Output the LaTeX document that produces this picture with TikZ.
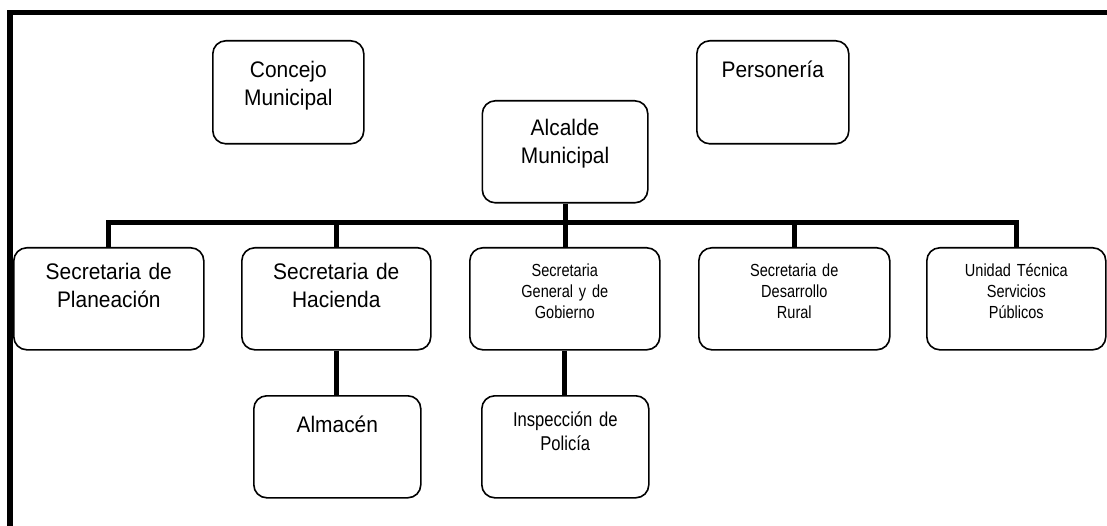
\documentclass[tikz,border=0pt]{standalone}
\usepackage{fontspec}
\usepackage{tikz}

\newfontfamily\arialg{Liberation Sans}[FakeStretch=0.93]
\newfontfamily\arialc{Liberation Sans}[FakeStretch=0.83]
\newcommand{\grande}{\arialg\fontsize{22.5}{28}\selectfont}
\newcommand{\media}{\arialc\fontsize{20}{24}\selectfont}
\newcommand{\chica}{\arialc\fontsize{17.5}{21}\selectfont}

\tikzset{
    caja/.style={draw, line width=1.6pt, rounded corners=13pt, fill=white,
        anchor=north west, align=center, inner sep=0pt},
    grande/.style={caja, font=\grande, text height=37pt, text depth=65pt},
    media/.style={caja, font=\media, text height=31pt, text depth=71pt},
    chica/.style={caja, font=\chica, text height=28.5pt, text depth=73.5pt},
    linea/.style={line width=5pt},
    marco/.style={line width=5.5pt}
}

\begin{document}
\begin{tikzpicture}[x=1pt, y=1pt]

\useasboundingbox (0,0) rectangle (1107,-526);
\clip (0,0) rectangle (1107,-526);

% Marco exterior
\draw[marco] (10,-12.5) rectangle (1140,-560);

% Nivel superior
\node[grande, text width=151pt, text depth=66pt] (concejo) at (212,-40) {Concejo\\Municipal};
\node[grande, text width=152pt, text depth=66pt] (personeria) at (696,-40) {Personería};
\node[grande, text width=165.5pt, text height=35pt, text depth=67pt] (alcalde) at (481.5,-100) {Alcalde\\Municipal};

% Secretarias
\node[grande, text width=190pt, text height=32pt, text depth=70pt] (planeacion) at (13,-247) {Secretaria de\\Planeación};
\node[grande, text width=189pt, text height=32pt, text depth=70pt] (hacienda) at (241,-247) {Secretaria de\\Hacienda};
\node[chica, text width=190pt] (gobierno) at (469,-247) {Secretaria\\General y de\\Gobierno};
\node[chica, text width=191pt] (desarrollo) at (698,-247) {Secretaria de\\Desarrollo\\Rural};
\node[chica, text width=179pt] (unidad) at (926,-247) {Unidad Técnica\\Servicios\\Públicos};

% Dependencias
\node[grande, text width=167pt] (almacen) at (253,-395) {Almacén};
\node[media, text width=167pt] (policia) at (481,-395) {Inspección de\\Policía};

% Conectores
\coordinate (barra) at (0,-223);
\draw[linea] (alcalde.south) -- (alcalde.south |- gobierno.north);
\draw[linea] (planeacion.north) -- (planeacion.north |- barra) -- (unidad.north |- barra) -- (unidad.north);
\foreach \n in {hacienda, desarrollo} {
    \draw[linea] (\n.north |- barra) -- (\n.north);
}
\draw[linea] (hacienda.south) -- (hacienda.south |- almacen.north);
\draw[linea] (gobierno.south) -- (gobierno.south |- policia.north);

\end{tikzpicture}
\end{document}
